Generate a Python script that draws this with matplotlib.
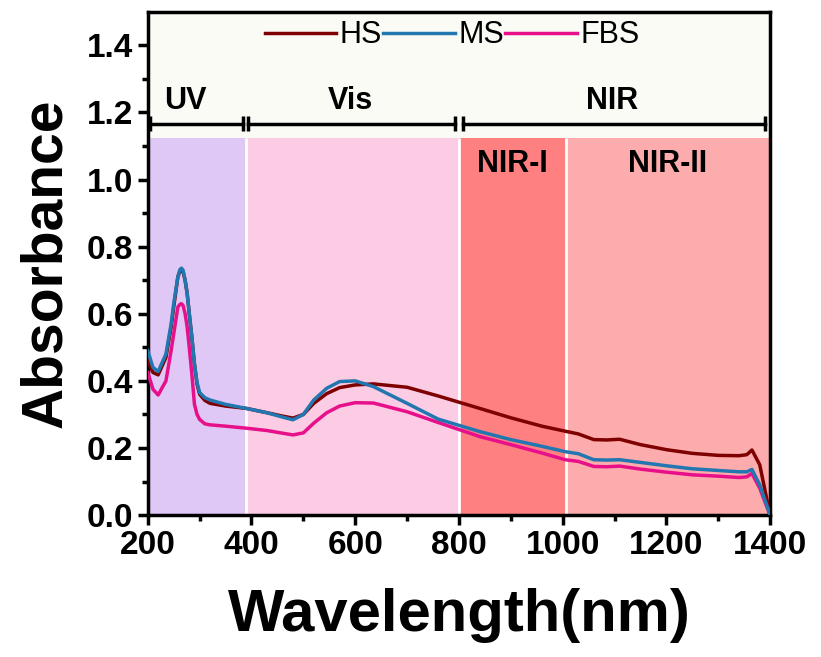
import matplotlib.pyplot as plt

plt.rcParams['font.family'] = ['Liberation Sans', 'DejaVu Sans']

# wavelength grid (nm) and absorbance
wavelength = [200, 210, 220, 235, 245, 250, 258, 262, 265, 268, 272, 276, 280, 285, 290, 295,
              300, 310, 320, 350, 390, 430, 460, 480, 500, 520, 545, 570, 600, 635, 700, 760,
              840, 900, 960, 1005, 1030, 1060, 1085, 1110, 1150, 1200, 1250, 1300, 1340, 1355,
              1365, 1380, 1400]
hs = [0.46, 0.425, 0.418, 0.47, 0.56, 0.62, 0.71, 0.727, 0.731, 0.725, 0.70, 0.66, 0.60, 0.53, 0.45, 0.39,
      0.36, 0.342, 0.333, 0.325, 0.318, 0.305, 0.295, 0.289, 0.300, 0.333, 0.362, 0.380, 0.388, 0.391, 0.381, 0.355,
      0.318, 0.29, 0.265, 0.25, 0.242, 0.225, 0.224, 0.226, 0.21, 0.195, 0.184, 0.178, 0.177, 0.18,
      0.194, 0.15, 0.0]
ms = [0.49, 0.44, 0.428, 0.48, 0.57, 0.63, 0.71, 0.732, 0.736, 0.73, 0.70, 0.66, 0.60, 0.53, 0.45, 0.395,
      0.365, 0.35, 0.343, 0.33, 0.318, 0.305, 0.292, 0.284, 0.30, 0.343, 0.378, 0.398, 0.400, 0.383, 0.333, 0.286,
      0.249, 0.225, 0.205, 0.189, 0.183, 0.165, 0.164, 0.165, 0.157, 0.147, 0.138, 0.133, 0.129, 0.129,
      0.136, 0.09, 0.0]
fbs = [0.425, 0.375, 0.358, 0.40, 0.49, 0.54, 0.62, 0.628, 0.63, 0.625, 0.60, 0.56, 0.50, 0.42, 0.33, 0.30,
       0.285, 0.272, 0.269, 0.265, 0.259, 0.252, 0.244, 0.239, 0.245, 0.274, 0.305, 0.325, 0.335, 0.334, 0.308, 0.276,
       0.234, 0.21, 0.185, 0.165, 0.16, 0.145, 0.144, 0.146, 0.137, 0.128, 0.12, 0.116, 0.112, 0.114,
       0.124, 0.08, 0.0]

# spectral regions
regions = [(200, 390), (390, 800), (800, 1006), (1006, 1400)]
region_colors = ['#dfc8f5', '#fccbe4', '#ff8080', '#fcacac']
sub_labels = ['NIR-I', 'NIR-II']
sub_label_x = [904, 1203]
brackets = [(205, 384, 'UV', 272), (393, 792, 'Vis', 590), (808, 1391, 'NIR', 1095)]

fig = plt.figure(figsize=(8.21, 6.57), dpi=100)
ax = fig.add_axes([0.180, 0.216, 0.758, 0.766])
ax.set_facecolor('#fbfbf6')

top = 1.125
for (x0, x1), c in zip(regions, region_colors):
    ax.fill_between([x0, x1], 0, top, color=c, lw=0, zorder=1)
ax.vlines([390, 800, 1006], 0, top, colors='white', lw=2, zorder=2)
for lab, xl in zip(sub_labels, sub_label_x):
    ax.text(xl, 1.045, lab, ha='center', va='center', fontsize=22, fontweight='bold', zorder=3)

for x0, x1, lab, xl in brackets:
    ax.plot([x0, x1], [1.167, 1.167], color='black', lw=2.5, zorder=3, clip_on=False)
    ax.vlines([x0, x1], 1.145, 1.189, colors='black', lw=2.5, zorder=3)
    ax.text(xl, 1.233, lab, ha='center', va='center', fontsize=22, fontweight='bold', zorder=3)

ax.plot(wavelength, hs, color='#7f0000', lw=2.5, label='HS', zorder=4)
ax.plot(wavelength, ms, color='#2277b0', lw=2.5, label='MS', zorder=5)
ax.plot(wavelength, fbs, color='#e8108a', lw=2.5, label='FBS', zorder=4)

ax.set_xlim(200, 1400)
ax.set_ylim(0, 1.5)
ax.set_xticks(range(200, 1401, 200))
ax.set_xticks(range(300, 1400, 200), minor=True)
ax.set_yticks([i / 10 for i in range(0, 15, 2)])
ax.set_yticks([i / 10 for i in range(1, 15, 2)], minor=True)
ax.yaxis.set_major_formatter(plt.FormatStrFormatter('%.1f'))
ax.tick_params(which='both', direction='out', width=2.5, labelsize=24)
ax.tick_params(which='major', length=7)
ax.tick_params(which='minor', length=4)
for t in ax.get_xticklabels() + ax.get_yticklabels():
    t.set_fontweight('bold')
for s in ax.spines.values():
    s.set_linewidth(2.5)

ax.set_xlabel('Wavelength(nm)', fontsize=43, fontweight='bold', labelpad=20)
ax.set_ylabel('Absorbance', fontsize=41, fontweight='bold', labelpad=10)

ax.legend(loc='center', bbox_to_anchor=(0.489, 0.953), ncol=3, frameon=False, fontsize=22,
          handlelength=2.35, handletextpad=0.1, columnspacing=0.05)

fig.savefig('out.png', dpi=100)
